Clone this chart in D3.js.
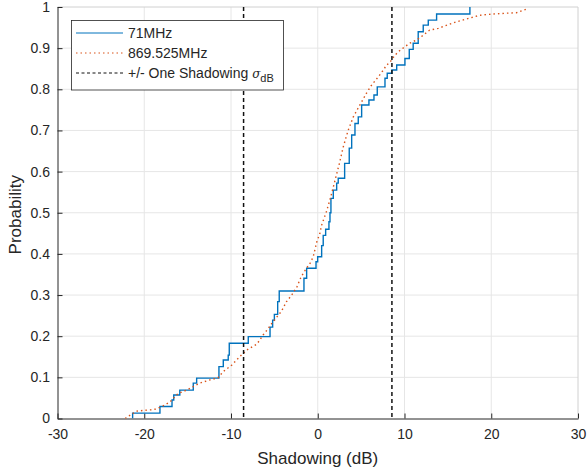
<!DOCTYPE html>
<html>
<head>
<meta charset="utf-8">
<script src="https://cdn.jsdelivr.net/npm/d3@7"></script>
<style>
  body { margin: 0; background: #fff; }
  text { font-family: "Liberation Sans", Arial, Helvetica, sans-serif; fill: #262626; }
</style>
</head>
<body>
<svg id="chart" width="588" height="473"></svg>
<script>
// 71MHz empirical CDF: x where each step happens, probability after the step
var blueX = [-21.34, -18.19, -16.8, -16.6, -15.9, -14.35, -13.96, -11.39, -10.89, -10.32,
  -10.2, -8.01, -5.5, -5.2, -5.0, -4.62, -4.44, -1.59, -1.28, -0.2,
  -0.01, 0.45, 0.63, 0.91, 1.29, 1.41, 1.52, 1.79, 2.18, 2.36,
  3.1, 3.63, 3.91, 4.29, 4.67, 5.06, 5.9, 6.48, 6.86, 7.75,
  8.01, 8.55, 9.1, 10.05, 10.55, 11.0, 11.58, 12.16, 12.74, 13.7, 17.54];
var blueP = [0.013, 0.029, 0.045, 0.057, 0.069, 0.086, 0.098, 0.126, 0.142, 0.154,
  0.183, 0.199, 0.222, 0.239, 0.253, 0.284, 0.31, 0.341, 0.365, 0.381,
  0.393, 0.42, 0.445, 0.46, 0.478, 0.5, 0.535, 0.555, 0.572, 0.584,
  0.62, 0.657, 0.689, 0.717, 0.733, 0.762, 0.774, 0.786, 0.806, 0.827,
  0.839, 0.847, 0.859, 0.875, 0.897, 0.912, 0.94, 0.956, 0.968, 0.983, 1.0];

var orangeX = [-22.2, -20.9, -19.3, -18.6, -17.6, -17.0, -16.1, -15.1, -13.6, -12.4,
  -11.5, -10.9, -9.9, -9.0, -8.2, -7.0, -6.3, -5.7, -5.3, -4.7,
  -4.2, -3.6, -3.0, -2.4, -1.9, -1.3, -0.8, -0.5, -0.1, 0.25,
  0.45, 1.0, 1.4, 1.8, 2.2, 2.5, 2.94, 3.5, 4.1, 4.86,
  5.6, 6.2, 6.97, 7.5, 7.94, 8.3, 8.9, 9.5, 10.6, 11.4,
  12.2, 12.9, 13.9, 14.9, 16.0, 17.5, 18.7, 20.2, 21.8, 22.9, 24.1];
var orangeP = [0, 0.018, 0.021, 0.023, 0.033, 0.041, 0.061, 0.069, 0.086, 0.094,
  0.099, 0.114, 0.13, 0.15, 0.166, 0.181, 0.203, 0.219, 0.231, 0.247,
  0.26, 0.284, 0.30, 0.32, 0.345, 0.365, 0.38, 0.395, 0.43, 0.45,
  0.47, 0.503, 0.531, 0.563, 0.596, 0.62, 0.66, 0.70, 0.733, 0.762,
  0.79, 0.81, 0.83, 0.845, 0.859, 0.865, 0.883, 0.895, 0.912, 0.92,
  0.932, 0.944, 0.948, 0.956, 0.964, 0.973, 0.98, 0.983, 0.985, 0.986, 0.995];

var sigmaDb = 8.55;
var xTicks = [-30, -20, -10, 0, 10, 20, 30];
var yTicks = [0, 0.1, 0.2, 0.3, 0.4, 0.5, 0.6, 0.7, 0.8, 0.9, 1];
var legendLabels = ['71MHz', '869.525MHz', '+/- One Shadowing '];

var plotL = 57.5, plotR = 578, plotT = 7, plotB = 418.5;
var svg = d3.select('#chart');

var x = d3.scaleLinear().domain([-30, 30]).range([plotL, plotR]);
var y = d3.scaleLinear().domain([0, 1]).range([plotB, plotT]);

// grid
var grid = svg.append('g');
grid.selectAll('.gx').data(xTicks.slice(1, -1)).enter().append('line')
  .attr('x1', x).attr('x2', x).attr('y1', plotT).attr('y2', plotB)
  .attr('stroke', '#e6e6e6').attr('stroke-width', 1);
grid.selectAll('.gy').data(yTicks.slice(1, -1)).enter().append('line')
  .attr('y1', y).attr('y2', y).attr('x1', plotL).attr('x2', plotR)
  .attr('stroke', '#e6e6e6').attr('stroke-width', 1);

// box (top / right)
svg.append('path')
  .attr('d', 'M' + plotL + ',' + plotT + 'H' + plotR + 'V' + plotB)
  .attr('fill', 'none').attr('stroke', '#d0d0d0').attr('stroke-width', 1);

// axes
var plain = function (d) { return String(+d.toFixed(1)); };
var xAxis = d3.axisBottom(x).tickValues(xTicks).tickSize(-5).tickPadding(10.5).tickSizeOuter(0).tickFormat(plain);
var yAxis = d3.axisLeft(y).tickValues(yTicks).tickSize(-5).tickPadding(7.5).tickSizeOuter(0).tickFormat(plain);

var gx = svg.append('g').attr('transform', 'translate(0,' + plotB + ')').call(xAxis);
var gy = svg.append('g').attr('transform', 'translate(' + plotL + ',0)').call(yAxis);
[gx, gy].forEach(function (g) {
  g.select('.domain').attr('stroke', '#262626');
  g.selectAll('.tick line').attr('stroke', '#262626');
  g.selectAll('.tick text').style('font-size', '14px')
    .style('font-family', '"Liberation Sans", Arial, sans-serif').attr('fill', '#262626');
});

// data lines
svg.append('clipPath').attr('id', 'clip').append('rect')
  .attr('x', plotL).attr('y', plotT - 2).attr('width', plotR - plotL).attr('height', plotB - plotT + 2);
var plot = svg.append('g').attr('clip-path', 'url(#clip)');

var bluePts = [[blueX[0], 0]].concat(blueX.map(function (v, i) { return [v, blueP[i]]; }));
var orangePts = orangeX.map(function (v, i) { return [v, orangeP[i]]; });

var stepLine = d3.line().x(function (d) { return x(d[0]); }).y(function (d) { return y(d[1]); })
  .curve(d3.curveStepAfter);
var smoothLine = d3.line().x(function (d) { return x(d[0]); }).y(function (d) { return y(d[1]); });

plot.append('path').attr('d', stepLine(bluePts))
  .attr('fill', 'none').attr('stroke', '#0072BD').attr('stroke-width', 1.4);
plot.append('path').attr('d', smoothLine(orangePts))
  .attr('fill', 'none').attr('stroke', '#D95319').attr('stroke-width', 1.4)
  .attr('stroke-dasharray', '1.5,3');

// +/- sigma lines
plot.selectAll('.sig').data([-sigmaDb, sigmaDb]).enter().append('line')
  .attr('x1', x).attr('x2', x).attr('y1', plotT).attr('y2', plotB)
  .attr('stroke', '#111').attr('stroke-width', 1.5).attr('stroke-dasharray', '4,3');

// axis labels
svg.append('text').attr('x', (plotL + plotR) / 2).attr('y', 464).attr('text-anchor', 'middle')
  .style('font-size', '17px').text('Shadowing (dB)');
svg.append('text').attr('transform', 'translate(21,' + ((plotT + plotB) / 2 + 2) + ') rotate(-90)')
  .attr('text-anchor', 'middle').style('font-size', '17px').text('Probability');

// legend
var lg = svg.append('g');
lg.append('rect').attr('x', 71.5).attr('y', 20.5).attr('width', 212).attr('height', 69.5)
  .attr('fill', '#fff').attr('stroke', '#262626').attr('stroke-width', 0.8);
var rows = [
  { label: legendLabels[0], color: '#0072BD', dash: null },
  { label: legendLabels[1], color: '#D95319', dash: '1.5,3' },
  { label: legendLabels[2], color: '#111', dash: '3,2.5' }
];
var rowY = [33, 53, 73];
rows.forEach(function (r, i) {
  lg.append('line').attr('x1', 76).attr('x2', 123).attr('y1', rowY[i]).attr('y2', rowY[i])
    .attr('stroke', r.color).attr('stroke-width', 1).attr('stroke-dasharray', r.dash);
  var t = lg.append('text').attr('x', 128).attr('y', rowY[i] + 5).style('font-size', '14px')
    .text(r.label);
  if (i === 2) {
    t.append('tspan').style('font-style', 'italic').style('font-family', '"DejaVu Serif", serif')
      .style('font-size', '12px').text('\u03C3');
    t.append('tspan').attr('dy', 4).style('font-size', '11px').text('dB');
  }
});
</script>
</body>
</html>
